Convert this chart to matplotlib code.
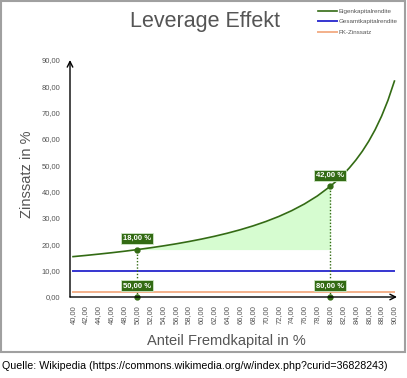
import matplotlib
matplotlib.use("Agg")
import matplotlib.pyplot as plt
from matplotlib.patches import Rectangle

plt.rcParams['font.family'] = ['Liberation Sans', 'DejaVu Sans']

x_vals = [40, 42, 44, 46, 48, 50, 52, 54, 56, 58, 60, 62, 64, 66, 68, 70,
          72, 74, 76, 78, 80, 81, 82, 83, 84, 85, 86, 87, 88, 89, 90]
ekr = [15.33, 15.79, 16.29, 16.81, 17.38, 18.00, 18.67, 19.39, 20.18, 21.05,
       22.00, 23.05, 24.22, 25.53, 27.00, 28.67, 30.57, 32.77, 35.33, 38.36,
       42.00, 44.10, 46.44, 49.06, 52.00, 55.33, 59.14, 63.54, 68.67, 74.73,
       82.00]
gkr = [10.0] * len(x_vals)
fkz = [2.0] * len(x_vals)
series_names = ["Eigenkapitalrendite", "Gesamtkapitalrendite", "FK-Zinssatz"]
marked_x = [50, 80]
marked_y = [18.0, 42.0]
x_ticks = list(range(40, 92, 2))
y_ticks = [0, 10, 20, 30, 40, 50, 60, 70, 80, 90]

GREEN = '#336b14'
BLUE = '#3535d0'
ORANGE = '#f3b08a'
TXT = '#555555'

W, H = 407, 378
fig = plt.figure(figsize=(W / 100, H / 100), dpi=100)
ax = fig.add_axes([70 / W, 1 - 297 / H, (397 - 70) / W, (297 - 60) / H])

ax.set_xlim(39.53, 90.4)
ax.set_ylim(0, 90)

# fill
xs = [x for x in x_vals if marked_x[0] <= x <= marked_x[1]]
ys = [e for x, e in zip(x_vals, ekr) if marked_x[0] <= x <= marked_x[1]]
ax.fill_between(xs, [marked_y[0]] * len(xs), ys, color='#d6fcd0', lw=0, zorder=1)

ax.plot(x_vals, ekr, color=GREEN, lw=1.2, label=series_names[0], zorder=3)
ax.plot(x_vals, gkr, color=BLUE, lw=1.4, label=series_names[1], zorder=3)
ax.plot(x_vals, fkz, color=ORANGE, lw=1.4, label=series_names[2], zorder=3)

for mx, my in zip(marked_x, marked_y):
    ax.plot([mx, mx], [0, my], color=GREEN, lw=1.0, ls=(0, (1, 1.3)), zorder=4)
    ax.plot([mx], [my], 'o', color=GREEN, ms=3.5, zorder=5, clip_on=False)
    ax.plot([mx], [0], 'o', color=GREEN, ms=3.5, zorder=5, clip_on=False)
    bb = dict(boxstyle='square,pad=0.25', fc=GREEN, ec='#cfe8c8', lw=0.6)
    ax.annotate(f"{my:.2f} %".replace('.', ','), (mx, my), xytext=(0, 8),
                textcoords='offset points', ha='center', va='center',
                fontsize=5.5, color='white', fontweight='bold', bbox=bb, zorder=6)
    ax.annotate(f"{mx:.2f} %".replace('.', ','), (mx, 0), xytext=(0, 8),
                textcoords='offset points', ha='center', va='center',
                fontsize=5.5, color='white', fontweight='bold', bbox=bb, zorder=6)

# axes styling
for s in ['top', 'right', 'left', 'bottom']:
    ax.spines[s].set_visible(False)
ax.annotate('', xy=(0, 1.0), xytext=(0, 0), xycoords='axes fraction',
            arrowprops=dict(arrowstyle='->', color='black', lw=1.0,
                            shrinkA=0, shrinkB=0), zorder=7)
ax.annotate('', xy=(1.0, 0), xytext=(0, 0), xycoords='axes fraction',
            arrowprops=dict(arrowstyle='->', color='black', lw=1.0,
                            shrinkA=0, shrinkB=0), zorder=7)

ax.set_yticks(y_ticks)
ax.set_yticklabels([f"{v:.2f}".replace('.', ',') for v in y_ticks])
ax.set_xticks(x_ticks)
ax.set_xticklabels([f"{v:.2f}".replace('.', ',') for v in x_ticks], rotation=90)
ax.tick_params(axis='both', length=0, labelsize=5.5, labelcolor=TXT)
ax.tick_params(axis='y', pad=7)
ax.tick_params(axis='x', pad=6)

fig.text(27 / W, 1 - 174 / H, "Zinssatz in %", rotation=90, ha='center',
         va='center', fontsize=10.5, color=TXT)
fig.text(226 / W, 1 - 341 / H, "Anteil Fremdkapital in %", ha='center',
         va='center', fontsize=10.5, color=TXT)
fig.text(205 / W, 1 - 21 / H, "Leverage Effekt", ha='center', va='center',
         fontsize=15.5, color=TXT)

fig.legend(loc='upper right', bbox_to_anchor=(403 / W, 1 - 3 / H), frameon=False,
           fontsize=4.5, handlelength=3.0, handletextpad=0.2, labelspacing=0.8,
           labelcolor=TXT)

fig.patches.append(Rectangle((1 / W, 1 - 352 / H), 404 / W, 351 / H,
                             transform=fig.transFigure, fill=False,
                             ec='#a0a0a0', lw=1.5))
fig.text(2 / W, 1 - 366 / H,
         "Quelle: Wikipedia (https://commons.wikimedia.org/w/index.php?curid=36828243)",
         ha='left', va='center', fontsize=7.7, color='black')

fig.savefig('out.png', dpi=100)
